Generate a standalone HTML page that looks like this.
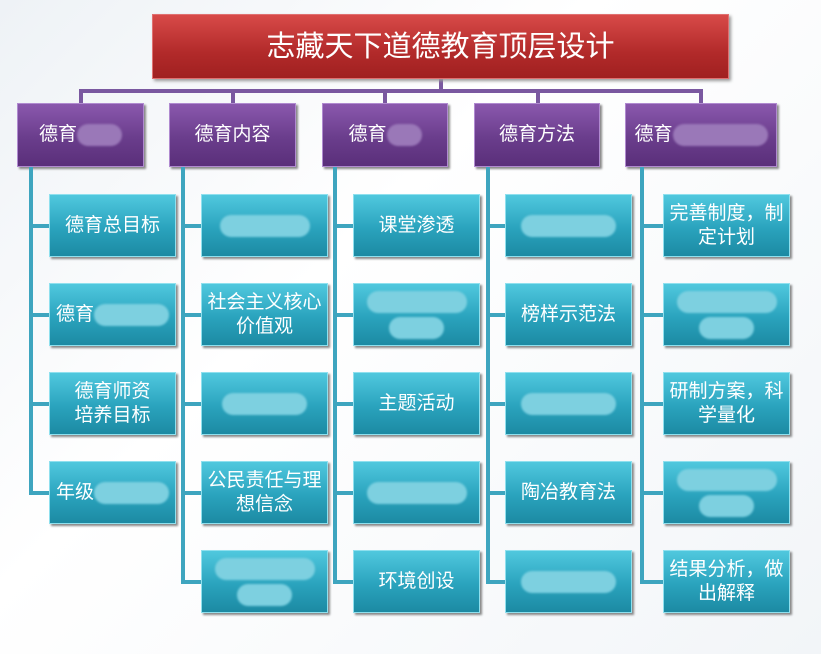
<!DOCTYPE html><html><head><meta charset="utf-8"><style>
body{margin:0;width:821px;height:654px;background:linear-gradient(135deg,#eef2f6,#ffffff 40%,#f2f5f8);position:relative;overflow:hidden;font-family:"Liberation Sans","Noto Sans CJK SC",sans-serif}
.b{position:absolute;box-sizing:border-box;display:flex;align-items:center;justify-content:center;text-align:center;color:#fff;line-height:24px}
.t{left:152px;top:14px;width:577px;height:65px;background:linear-gradient(#d84a48,#b22a2a 60%,#a02020);border:1px solid #e07070;font-size:29px;box-shadow:2px 2px 3px #999}
.h{height:64px;background:linear-gradient(#8a58ad,#6a3d8c 55%,#5a2f7a);border:1px solid #b08ad0;font-size:19px;box-shadow:2px 2px 2px #888}
.c{width:127px;height:63px;background:linear-gradient(#50c8de,#2aa3bd 55%,#1c8aa3);border:1px solid #8fe0ee;font-size:19px;box-shadow:2px 2px 2px #888;padding:0 1px}
.l{position:absolute;background:#7a58a0}
.v{position:absolute;background:#3ea5bf}
.bl{display:inline-block;height:22px;border-radius:11px;background:#7dd0e0;filter:blur(1px);vertical-align:middle}
.bp{display:inline-block;height:22px;border-radius:11px;background:#9a78b8;filter:blur(1px);vertical-align:middle}
</style></head><body>
<div class="l" style="left:80px;top:89px;width:622px;height:4px"></div>
<div class="l" style="left:439px;top:78px;width:4px;height:13px"></div>
<div class="l" style="left:79px;top:89px;width:4px;height:15px"></div>
<div class="l" style="left:231px;top:89px;width:4px;height:15px"></div>
<div class="l" style="left:383px;top:89px;width:4px;height:15px"></div>
<div class="l" style="left:536px;top:89px;width:4px;height:15px"></div>
<div class="l" style="left:699px;top:89px;width:4px;height:15px"></div>
<div class="b t">志藏天下道德教育顶层设计</div>
<div class="b h" style="left:17px;top:103px;width:127px">德育<span class="bp" style="width:45px"></span></div>
<div class="b h" style="left:169px;top:103px;width:127px">德育内容</div>
<div class="b h" style="left:322px;top:103px;width:126px">德育<span class="bp" style="width:35px"></span></div>
<div class="b h" style="left:474px;top:103px;width:126px">德育方法</div>
<div class="b h" style="left:625px;top:103px;width:152px">德育<span class="bp" style="width:95px"></span></div>
<div class="v" style="left:29px;top:167px;width:4px;height:326px"></div>
<div class="v" style="left:181px;top:167px;width:4px;height:415px"></div>
<div class="v" style="left:333px;top:167px;width:4px;height:415px"></div>
<div class="v" style="left:486px;top:167px;width:4px;height:415px"></div>
<div class="v" style="left:640px;top:167px;width:4px;height:415px"></div>
<div class="v" style="left:29px;top:224px;width:22px;height:4px"></div>
<div class="v" style="left:29px;top:313px;width:22px;height:4px"></div>
<div class="v" style="left:29px;top:402px;width:22px;height:4px"></div>
<div class="v" style="left:29px;top:491px;width:22px;height:4px"></div>
<div class="v" style="left:181px;top:224px;width:22px;height:4px"></div><div class="v" style="left:181px;top:313px;width:22px;height:4px"></div><div class="v" style="left:181px;top:402px;width:22px;height:4px"></div><div class="v" style="left:181px;top:491px;width:22px;height:4px"></div><div class="v" style="left:181px;top:580px;width:22px;height:4px"></div>
<div class="v" style="left:333px;top:224px;width:22px;height:4px"></div><div class="v" style="left:333px;top:313px;width:22px;height:4px"></div><div class="v" style="left:333px;top:402px;width:22px;height:4px"></div><div class="v" style="left:333px;top:491px;width:22px;height:4px"></div><div class="v" style="left:333px;top:580px;width:22px;height:4px"></div>
<div class="v" style="left:486px;top:224px;width:22px;height:4px"></div><div class="v" style="left:486px;top:313px;width:22px;height:4px"></div><div class="v" style="left:486px;top:402px;width:22px;height:4px"></div><div class="v" style="left:486px;top:491px;width:22px;height:4px"></div><div class="v" style="left:486px;top:580px;width:22px;height:4px"></div>
<div class="v" style="left:640px;top:224px;width:24px;height:4px"></div><div class="v" style="left:640px;top:313px;width:24px;height:4px"></div><div class="v" style="left:640px;top:402px;width:24px;height:4px"></div><div class="v" style="left:640px;top:491px;width:24px;height:4px"></div><div class="v" style="left:640px;top:580px;width:24px;height:4px"></div>
<div class="b c" style="left:49px;top:194px">德育总目标</div>
<div class="b c" style="left:49px;top:283px">德育<span class="bl" style="width:75px"></span></div>
<div class="b c" style="left:49px;top:372px">德育师资<br>培养目标</div>
<div class="b c" style="left:49px;top:461px">年级<span class="bl" style="width:75px"></span></div>
<div class="b c" style="left:201px;top:194px"><span class="bl" style="width:90px"></span></div>
<div class="b c" style="left:201px;top:283px">社会主义核心价值观</div>
<div class="b c" style="left:201px;top:372px"><span class="bl" style="width:85px"></span></div>
<div class="b c" style="left:201px;top:461px">公民责任与理想信念</div>
<div class="b c" style="left:201px;top:550px;flex-direction:column"><span class="bl" style="width:100px;margin-bottom:4px"></span><span class="bl" style="width:55px"></span></div>
<div class="b c" style="left:353px;top:194px">课堂渗透</div>
<div class="b c" style="left:353px;top:283px;flex-direction:column"><span class="bl" style="width:100px;margin-bottom:4px"></span><span class="bl" style="width:55px"></span></div>
<div class="b c" style="left:353px;top:372px">主题活动</div>
<div class="b c" style="left:353px;top:461px"><span class="bl" style="width:100px"></span></div>
<div class="b c" style="left:353px;top:550px">环境创设</div>
<div class="b c" style="left:505px;top:194px"><span class="bl" style="width:95px"></span></div>
<div class="b c" style="left:505px;top:283px">榜样示范法</div>
<div class="b c" style="left:505px;top:372px"><span class="bl" style="width:95px"></span></div>
<div class="b c" style="left:505px;top:461px">陶冶教育法</div>
<div class="b c" style="left:505px;top:550px"><span class="bl" style="width:95px"></span></div>
<div class="b c" style="left:663px;top:194px">完善制度，制定计划</div>
<div class="b c" style="left:663px;top:283px;flex-direction:column"><span class="bl" style="width:100px;margin-bottom:4px"></span><span class="bl" style="width:55px"></span></div>
<div class="b c" style="left:663px;top:372px">研制方案，科学量化</div>
<div class="b c" style="left:663px;top:461px;flex-direction:column"><span class="bl" style="width:100px;margin-bottom:4px"></span><span class="bl" style="width:55px"></span></div>
<div class="b c" style="left:663px;top:550px">结果分析，做出解释</div>
</body></html>
